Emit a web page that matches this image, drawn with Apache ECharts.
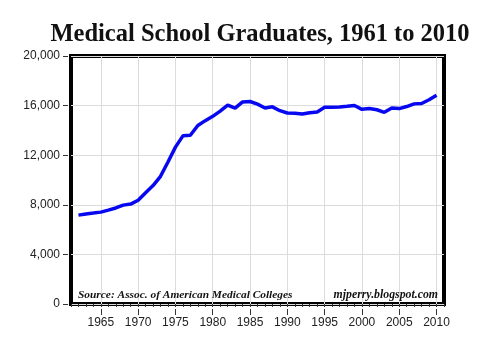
<!DOCTYPE html>
<html>
<head>
<meta charset="utf-8">
<script src="https://cdn.jsdelivr.net/npm/echarts@6/dist/echarts.min.js"></script>
<style>
  html, body {margin: 0; padding: 0; background: #fff;}
  #main {width: 500px; height: 351px;}
</style>
</head>
<body>
<div id="main"></div>
<script>
// graduates per year
const years = [
  1962, 1963, 1964, 1965, 1966, 1967, 1968, 1969, 1970,
  1971, 1972, 1973, 1974, 1975, 1976, 1977, 1978, 1979, 1980,
  1981, 1982, 1983, 1984, 1985, 1986, 1987, 1988, 1989, 1990,
  1991, 1992, 1993, 1994, 1995, 1996, 1997, 1998, 1999, 2000,
  2001, 2002, 2003, 2004, 2005, 2006, 2007, 2008, 2009, 2010
];
const graduates = [
  7168, 7264, 7336, 7409, 7574, 7743, 7973, 8059, 8367,
  8974, 9551, 10300, 11450, 12650, 13561, 13607, 14393, 14786, 15135,
  15560, 16040, 15790, 16300, 16330, 16117, 15810, 15900, 15590, 15400,
  15390, 15330, 15430, 15480, 15860, 15870, 15880, 15940, 16010, 15700,
  15760, 15664, 15460, 15800, 15760, 15925, 16139, 16167, 16468, 16838
];
const majorYears = [1965, 1970, 1975, 1980, 1985, 1990, 1995, 2000, 2005, 2010];
const yTicks = [0, 4000, 8000, 12000, 16000, 20000];

const chart = echarts.init(document.getElementById('main'));
const tickColor = '#333';
const gridColor = '#dcdcdc';

const option = {
  animation: false,
  backgroundColor: '#fff',
  grid: {
    left: 71, right: 56, top: 56, bottom: 47,
    show: true,
    backgroundColor: '#fff',
    borderColor: '#000',
    borderWidth: 4
  },
  xAxis: [
    {
      // yearly minor ticks
      type: 'value', min: 1961, max: 2011, interval: 1,
      position: 'bottom', offset: 5,
      axisLine: {show: false},
      axisTick: {length: 3, lineStyle: {color: tickColor}},
      axisLabel: {show: false},
      splitLine: {show: false}
    },
    {
      type: 'value', min: 1961, max: 2011,
      position: 'bottom', offset: 5,
      axisLine: {show: false},
      axisTick: {customValues: majorYears, length: 6, lineStyle: {color: tickColor}},
      axisLabel: {
        customValues: majorYears,
        margin: 8,
        fontSize: 12,
        fontFamily: 'Liberation Sans',
        color: '#222',
        formatter: v => String(v)
      },
      splitLine: {show: true, lineStyle: {color: gridColor, width: 1}}
    }
  ],
  yAxis: {
    type: 'value', min: yTicks[0], max: yTicks[yTicks.length - 1], interval: 4000,
    offset: 3,
    axisLine: {show: false},
    axisTick: {show: true, length: 5, lineStyle: {color: tickColor}},
    axisLabel: {
      margin: 8,
      fontSize: 12,
      fontFamily: 'Liberation Sans',
      color: '#222',
      formatter: v => v.toLocaleString('en-US')
    },
    splitLine: {show: true, lineStyle: {color: gridColor, width: 1}}
  },
  series: [{
    type: 'line',
    xAxisIndex: 0,
    data: years.map((y, i) => [y, graduates[i]]),
    showSymbol: false,
    lineStyle: {color: '#0808f0', width: 3.5},
    z: 5
  }],
  graphic: [
    {
      type: 'text',
      style: {
        text: 'Medical School Graduates, 1961 to 2010',
        x: 260, y: 35,
        align: 'center', verticalAlign: 'middle',
        font: 'bold 24.5px "Liberation Serif"',
        fill: '#111'
      }
    },
    {
      type: 'text', z: 10,
      style: {
        text: 'Source: Assoc. of American Medical Colleges',
        x: 78, y: 295,
        align: 'left', verticalAlign: 'middle',
        font: 'italic bold 11.4px "Liberation Serif"',
        fill: '#111'
      }
    },
    {
      type: 'text', z: 10,
      style: {
        text: 'mjperry.blogspot.com',
        x: 438, y: 295,
        align: 'right', verticalAlign: 'middle',
        font: 'italic bold 11.8px "Liberation Serif"',
        fill: '#111'
      }
    }
  ]
};

chart.setOption(option);
</script>
</body>
</html>
